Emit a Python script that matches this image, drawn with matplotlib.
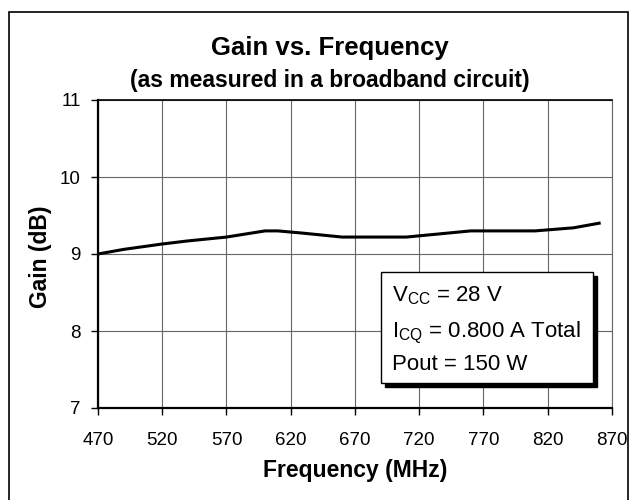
import matplotlib
matplotlib.use("Agg")
import matplotlib.pyplot as plt
from matplotlib.patches import Rectangle

plt.rcParams['font.family'] = ['Liberation Sans', 'DejaVu Sans']

freq = [470, 490, 520, 540, 570, 600, 610, 630, 660, 710, 760, 810, 840, 860]
gain = [9.0, 9.06, 9.13, 9.17, 9.22, 9.3, 9.3, 9.27, 9.22, 9.22, 9.3, 9.3, 9.34, 9.4]
xticks = [470, 520, 570, 620, 670, 720, 770, 820, 870]
yticks = [7, 8, 9, 10, 11]

W, H = 632.0, 500.0
fig = plt.figure(figsize=(6.32, 5.0), dpi=100)
# outer chart frame
fig.patches.append(Rectangle((9/W, -0.01), 619/W, 1 - 12/H + 0.01,
                             transform=fig.transFigure, fill=False,
                             edgecolor='black', linewidth=1.2))

ax = fig.add_axes([98/W, 92/H, 514/W, 308/H])
ax.plot(freq, gain, color='black', linewidth=2.2)
ax.set_xlim(470, 870)
ax.set_ylim(7, 11)
ax.set_xticks(xticks)
ax.set_yticks(yticks)
ax.tick_params(labelsize=13.5, direction='out', length=5, width=1)
ax.tick_params(axis='x', pad=12)
ax.tick_params(axis='y', pad=7.5)
ax.grid(True, color='#666666', linewidth=0.8)
ax.set_axisbelow(True)
for s in ['left', 'bottom']:
    ax.spines[s].set_linewidth(1.6)
ax.spines['top'].set_linewidth(1.2)
ax.spines['right'].set_color('#666666')
ax.spines['right'].set_linewidth(0.8)

fig.text(355/W, 1 - 477/H, 'Frequency (MHz)', ha='center', va='baseline',
         fontsize=16.5, fontweight='bold')
fig.text(40/W, 1 - 257/H, 'Gain (dB)', ha='center', va='center', rotation=90,
         fontsize=16.5, fontweight='bold')

fig.text(330/W, 1 - 55/H, 'Gain vs. Frequency', ha='center', va='baseline',
         fontsize=18.5, fontweight='bold')
fig.text(330/W, 1 - 87/H, '(as measured in a broadband circuit)', ha='center',
         va='baseline', fontsize=16.5, fontweight='bold')

# annotation box with shadow
bx, by, bw, bh = 381/W, 1 - 383/H, 212/W, 111/H
fig.patches.append(Rectangle((bx + 4/W, by - 4/H), bw, bh, transform=fig.transFigure,
                             facecolor='black', edgecolor='black', zorder=5))
fig.patches.append(Rectangle((bx, by), bw, bh, transform=fig.transFigure,
                             facecolor='white', edgecolor='black', linewidth=1, zorder=6))
fig.text(392/W, 1 - 301/H, r'V$_{\mathregular{CC}}$ = 28 V', fontsize=16,
         va='baseline', zorder=7)
fig.text(392/W, 1 - 337/H, r'I$_{\mathregular{CQ}}$ = 0.800 A Total', fontsize=16,
         va='baseline', zorder=7)
fig.text(392/W, 1 - 370/H, 'Pout = 150 W', fontsize=16, va='baseline', zorder=7)

fig.savefig('out.png', dpi=100)
